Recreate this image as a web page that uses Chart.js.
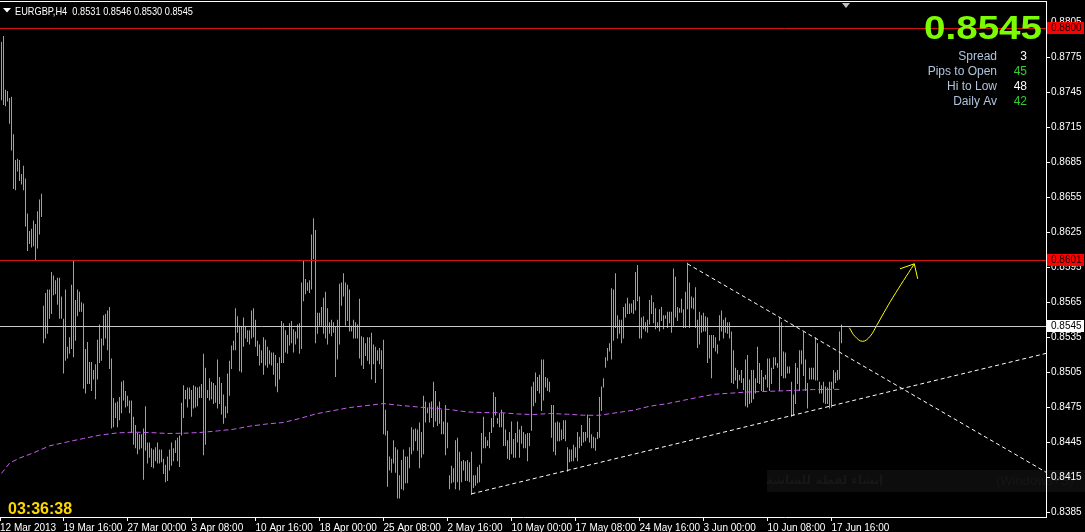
<!DOCTYPE html>
<html>
<head>
<meta charset="utf-8">
<script src="https://cdn.jsdelivr.net/npm/chart.js@4.4.1/dist/chart.umd.min.js"></script>
<style>
html, body { margin: 0; padding: 0; background: #000; }
#wrap { width: 1085px; height: 532px; }
</style>
</head>
<body>
<div id="wrap"><canvas id="chart" width="1085" height="532"></canvas></div>
<script>
// EURGBP H4 bars, high / low per bar (bar 0 = 12 Mar 2013)
const symbol = "EURGBP,H4";
const lastOHLC = [0.8531, 0.8546, 0.8530, 0.8545];

const barHigh = [
0.8788,0.8793,0.8747,0.8746,0.8740,0.8741,0.8709,0.8687,0.8688,0.8687,
0.8675,0.8682,0.8671,0.8641,0.8626,0.8628,0.8635,0.8632,0.8643,0.8653,
0.8658,0.8562,0.8573,0.8576,0.8576,0.8591,0.8588,0.8584,0.8586,0.8586,
0.8570,0.8551,0.8576,0.8527,0.8535,0.8580,0.8601,0.8567,0.8576,0.8574,
0.8565,0.8564,0.8525,0.8531,0.8514,0.8514,0.8507,0.8512,0.8533,0.8546,
0.8534,0.8554,0.8555,0.8558,0.8561,0.8517,0.8483,0.8479,0.8480,0.8484,
0.8497,0.8498,0.8489,0.8485,0.8481,0.8481,0.8467,0.8460,0.8453,0.8452,
0.8452,0.8457,0.8476,0.8445,0.8445,0.8440,0.8439,0.8441,0.8445,0.8439,
0.8439,0.8431,0.8426,0.8433,0.8439,0.8445,0.8440,0.8447,0.8449,0.8451,
0.8479,0.8494,0.8490,0.8492,0.8492,0.8490,0.8494,0.8493,0.8492,0.8493,
0.8495,0.8521,0.8509,0.8490,0.8500,0.8497,0.8496,0.8494,0.8516,0.8501,
0.8496,0.8486,0.8476,0.8504,0.8515,0.8528,0.8532,0.8560,0.8553,0.8545,
0.8544,0.8552,0.8544,0.8541,0.8541,0.8558,0.8560,0.8550,0.8532,0.8529,
0.8524,0.8535,0.8533,0.8527,0.8524,0.8522,0.8522,0.8520,0.8513,0.8518,
0.8549,0.8547,0.8541,0.8537,0.8547,0.8549,0.8542,0.8540,0.8546,0.8547,
0.8582,0.8601,0.8585,0.8582,0.8584,0.8623,0.8637,0.8627,0.8556,0.8556,
0.8561,0.8569,0.8574,0.8560,0.8548,0.8550,0.8548,0.8544,0.8550,0.8581,
0.8582,0.8590,0.8582,0.8580,0.8576,0.8545,0.8550,0.8548,0.8546,0.8568,
0.8536,0.8535,0.8530,0.8535,0.8535,0.8539,0.8529,0.8527,0.8524,0.8526,
0.8524,0.8533,0.8473,0.8455,0.8433,0.8431,0.8447,0.8441,0.8439,0.8417,
0.8430,0.8439,0.8433,0.8433,0.8441,0.8458,0.8456,0.8457,0.8456,0.8462,
0.8454,0.8485,0.8480,0.8475,0.8479,0.8480,0.8497,0.8489,0.8476,0.8480,
0.8473,0.8463,0.8477,0.8462,0.8417,0.8425,0.8423,0.8447,0.8449,0.8437,
0.8429,0.8430,0.8429,0.8430,0.8428,0.8437,0.8417,0.8417,0.8424,0.8426,
0.8453,0.8467,0.8450,0.8447,0.8454,0.8466,0.8488,0.8484,0.8466,0.8470,
0.8473,0.8470,0.8456,0.8447,0.8454,0.8463,0.8448,0.8453,0.8463,0.8456,
0.8459,0.8454,0.8452,0.8453,0.8453,0.8493,0.8497,0.8505,0.8501,0.8503,
0.8516,0.8516,0.8501,0.8500,0.8497,0.8477,0.8477,0.8462,0.8463,0.8462,
0.8456,0.8464,0.8464,0.8441,0.8439,0.8439,0.8443,0.8441,0.8454,0.8450,
0.8460,0.8454,0.8454,0.8469,0.8466,0.8452,0.8450,0.8449,0.8454,0.8484,
0.8493,0.8500,0.8518,0.8526,0.8530,0.8577,0.8576,0.8590,0.8554,0.8550,
0.8550,0.8561,0.8564,0.8569,0.8564,0.8564,0.8567,0.8591,0.8597,0.8570,
0.8552,0.8553,0.8548,0.8550,0.8567,0.8571,0.8565,0.8560,0.8548,0.8559,
0.8561,0.8554,0.8554,0.8557,0.8557,0.8557,0.8594,0.8587,0.8561,0.8560,
0.8568,0.8559,0.8574,0.8599,0.8582,0.8570,0.8569,0.8578,0.8550,0.8557,
0.8554,0.8556,0.8553,0.8552,0.8537,0.8537,0.8537,0.8535,0.8529,0.8554,
0.8558,0.8550,0.8552,0.8548,0.8548,0.8540,0.8524,0.8509,0.8507,0.8503,
0.8507,0.8500,0.8516,0.8520,0.8499,0.8507,0.8507,0.8500,0.8527,0.8513,
0.8507,0.8501,0.8503,0.8517,0.8517,0.8509,0.8518,0.8518,0.8513,0.8552,
0.8548,0.8523,0.8522,0.8510,0.8510,0.8497,0.8486,0.8513,0.8509,0.8524,
0.8524,0.8540,0.8516,0.8496,0.8509,0.8509,0.8509,0.8535,0.8530,0.8497,
0.8494,0.8497,0.8493,0.8492,0.8497,0.8497,0.8507,0.8505,0.8507,0.8540,
0.8546];

const barLow = [
0.8738,0.8734,0.8733,0.8737,0.8718,0.8695,0.8662,0.8661,0.8677,0.8669,
0.8666,0.8661,0.8630,0.8609,0.8615,0.8612,0.8613,0.8601,0.8611,0.8623,
0.8638,0.8530,0.8534,0.8538,0.8551,0.8555,0.8571,0.8572,0.8563,0.8551,
0.8551,0.8504,0.8515,0.8517,0.8521,0.8525,0.8518,0.8532,0.8553,0.8557,
0.8557,0.8491,0.8487,0.8495,0.8495,0.8489,0.8499,0.8482,0.8499,0.8513,
0.8515,0.8528,0.8534,0.8524,0.8508,0.8457,0.8458,0.8466,0.8458,0.8464,
0.8470,0.8481,0.8475,0.8476,0.8470,0.8453,0.8443,0.8440,0.8435,0.8439,
0.8440,0.8413,0.8438,0.8427,0.8432,0.8424,0.8423,0.8429,0.8427,0.8427,
0.8428,0.8418,0.8411,0.8412,0.8421,0.8425,0.8429,0.8436,0.8429,0.8424,
0.8451,0.8466,0.8482,0.8475,0.8482,0.8467,0.8474,0.8475,0.8476,0.8483,
0.8483,0.8434,0.8443,0.8483,0.8481,0.8482,0.8478,0.8479,0.8474,0.8478,
0.8469,0.8461,0.8466,0.8470,0.8485,0.8508,0.8524,0.8524,0.8539,0.8506,
0.8505,0.8527,0.8534,0.8531,0.8529,0.8534,0.8535,0.8527,0.8519,0.8511,
0.8513,0.8503,0.8511,0.8509,0.8512,0.8511,0.8503,0.8493,0.8488,0.8499,
0.8513,0.8513,0.8522,0.8521,0.8528,0.8530,0.8522,0.8529,0.8534,0.8521,
0.8525,0.8566,0.8572,0.8575,0.8573,0.8576,0.8602,0.8530,0.8538,0.8545,
0.8545,0.8538,0.8534,0.8529,0.8538,0.8536,0.8539,0.8501,0.8516,0.8529,
0.8562,0.8570,0.8545,0.8549,0.8540,0.8540,0.8534,0.8534,0.8534,0.8517,
0.8511,0.8508,0.8519,0.8515,0.8512,0.8499,0.8512,0.8496,0.8515,0.8512,
0.8508,0.8452,0.8451,0.8407,0.8421,0.8419,0.8427,0.8419,0.8397,0.8397,
0.8405,0.8404,0.8410,0.8410,0.8423,0.8435,0.8438,0.8446,0.8438,0.8423,
0.8432,0.8435,0.8462,0.8470,0.8462,0.8466,0.8458,0.8463,0.8459,0.8461,
0.8452,0.8452,0.8434,0.8440,0.8405,0.8410,0.8411,0.8405,0.8411,0.8404,
0.8411,0.8421,0.8412,0.8412,0.8411,0.8400,0.8406,0.8408,0.8410,0.8411,
0.8427,0.8440,0.8440,0.8442,0.8440,0.8453,0.8458,0.8468,0.8461,0.8458,
0.8458,0.8442,0.8442,0.8431,0.8430,0.8435,0.8432,0.8432,0.8445,0.8432,
0.8444,0.8440,0.8440,0.8429,0.8442,0.8455,0.8476,0.8479,0.8489,0.8487,
0.8472,0.8481,0.8492,0.8489,0.8488,0.8449,0.8437,0.8434,0.8446,0.8446,
0.8447,0.8448,0.8446,0.8420,0.8428,0.8429,0.8429,0.8432,0.8429,0.8440,
0.8442,0.8445,0.8446,0.8449,0.8445,0.8440,0.8440,0.8438,0.8448,0.8449,
0.8472,0.8492,0.8509,0.8515,0.8523,0.8516,0.8532,0.8543,0.8534,0.8538,
0.8530,0.8534,0.8552,0.8555,0.8555,0.8556,0.8555,0.8558,0.8566,0.8534,
0.8534,0.8542,0.8540,0.8539,0.8546,0.8555,0.8547,0.8542,0.8543,0.8540,
0.8549,0.8542,0.8551,0.8543,0.8547,0.8539,0.8545,0.8552,0.8549,0.8556,
0.8556,0.8543,0.8543,0.8559,0.8543,0.8560,0.8559,0.8543,0.8526,0.8529,
0.8539,0.8540,0.8540,0.8513,0.8517,0.8500,0.8526,0.8523,0.8521,0.8532,
0.8540,0.8534,0.8539,0.8538,0.8534,0.8496,0.8495,0.8498,0.8491,0.8498,
0.8496,0.8490,0.8476,0.8475,0.8478,0.8479,0.8482,0.8487,0.8496,0.8495,
0.8489,0.8489,0.8499,0.8492,0.8489,0.8495,0.8508,0.8511,0.8509,0.8489,
0.8502,0.8500,0.8500,0.8504,0.8504,0.8467,0.8468,0.8478,0.8495,0.8489,
0.8512,0.8502,0.8489,0.8474,0.8499,0.8499,0.8499,0.8498,0.8498,0.8487,
0.8487,0.8479,0.8478,0.8478,0.8474,0.8475,0.8491,0.8496,0.8498,0.8499,
0.8530];

// moving average, sampled at bar indexes
const maIndex = [0,4,9,16,24,33,41,49,58,66,74,83,91,99,108,116,124,133,141,149,
  158,166,174,191,199,208,224,233,241,249,258,266,274,283,291,299,308,316,324,333,
  341,349,356,373,389,406,420];
const maValue = [0.84185,0.84273,0.84316,0.84361,0.84421,0.84455,0.84484,0.84512,0.84532,0.84538,
  0.84535,0.84527,0.84529,0.84535,0.84549,0.84563,0.84589,0.84609,0.84621,0.84655,
  0.84698,0.84723,0.84749,0.84783,0.84768,0.84754,0.84732,0.84711,0.84706,0.84706,
  0.84694,0.84689,0.84698,0.84692,0.84683,0.84683,0.84706,0.84726,0.84760,0.84783,
  0.84811,0.84839,0.84862,0.84882,0.84891,0.84903,0.84905];

// time axis: first bar date, then every 32 bars
const xTickIndex = [-0.75,31,63,95,127,159,191,223,255,287,319,351,383,415];
const xTickLabels = ["12 Mar 2013","19 Mar 16:00","27 Mar 00:00","3 Apr 08:00","10 Apr 16:00",
  "18 Apr 00:00","25 Apr 08:00","2 May 16:00","10 May 00:00","17 May 08:00","24 May 16:00",
  "3 Jun 00:00","10 Jun 08:00","17 Jun 16:00"];
const xMin = -0.75, xMax = 522.25;

const yTicks = [0.8385,0.8415,0.8445,0.8475,0.8505,0.8535,0.8565,0.8595,0.8625,0.8655,
  0.8685,0.8715,0.8745,0.8775,0.8805];
const yMin = 0.838117, yMax = 0.88222;

// drawn objects (bar index, price)
const redLevels = [0.8800, 0.8601];
const bidPrice = 0.8545;
const supportLine = [[235, 0.8401], [395, 0.8468]];
const resistLine = [[343, 0.8598], [389, 0.85522]];
const arrowCurve = [[423.9,0.85433],[426.75,0.85358],[430.6,0.85316],[434.25,0.85358],
  [437.6,0.85452],[441.25,0.85563],[445.75,0.85694],[456.4,0.85980]];
const arrowHead = [[449.25,0.85937],[456.4,0.85980],[458.1,0.85851]];
const shiftMarkIndex = 422;

const infoLabels = ["Spread", "Pips to Open", "Hi to Low", "Daily Av"];
const infoValues = ["3", "45", "48", "42"];
const infoColors = ["#ffffff", "#32cd32", "#ffffff", "#32cd32"];
const clockText = "03:36:38";

const axisFont = "'Liberation Sans', Arial, sans-serif";

const bars = barHigh.map((h, i) => ({ x: i, y: [barLow[i], h] }));
const maPoints = maIndex.map((x, k) => ({ x: x, y: maValue[k] }));
const curvePoints = arrowCurve.map(p => ({ x: p[0], y: p[1] }));
const headPoints = arrowHead.map(p => ({ x: p[0], y: p[1] }));

function ray(ctx, chart, p1, p2) {
  const xs = chart.scales.x, ys = chart.scales.y;
  const x1 = xs.getPixelForValue(p1[0]), y1 = ys.getPixelForValue(p1[1]);
  const x2 = xs.getPixelForValue(p2[0]), y2 = ys.getPixelForValue(p2[1]);
  const xe = chart.chartArea.right;
  const ye = y1 + (y2 - y1) * (xe - x1) / (x2 - x1);
  ctx.beginPath();
  ctx.moveTo(x1, y1);
  ctx.lineTo(xe, ye);
  ctx.stroke();
}

function priceBox(ctx, chart, value, bg, fg) {
  const y = Math.round(chart.scales.y.getPixelForValue(value));
  ctx.fillStyle = bg;
  ctx.fillRect(chart.chartArea.right + 1, y - 6, 37, 12);
  ctx.fillStyle = fg;
  ctx.font = "10px " + axisFont;
  ctx.textAlign = "left";
  ctx.textBaseline = "middle";
  ctx.fillText(value.toFixed(4), chart.chartArea.right + 5, y + 0.5);
}

// text squeezed to a given width, like the narrow terminal font
function fitText(ctx, text, x, y, width) {
  const w = ctx.measureText(text).width;
  ctx.save();
  ctx.translate(x, y);
  ctx.scale(width / w, 1);
  ctx.fillText(text, 0, 0);
  ctx.restore();
}

const drawings = {
  id: "drawings",
  beforeDraw(chart) {
    const ctx = chart.ctx;
    ctx.save();
    ctx.fillStyle = "#000";
    ctx.fillRect(0, 0, chart.width, chart.height);
    // faint screenshot hint left on the chart
    ctx.fillStyle = "#0d0d0d";
    ctx.fillRect(767, 470, 318, 22);
    ctx.fillStyle = "#171717";
    ctx.font = "bold 12px 'DejaVu Sans', sans-serif";
    ctx.textAlign = "right";
    ctx.textBaseline = "middle";
    ctx.fillText("إنشاء لقطة للشاشة", 883, 481);
    ctx.font = "13px 'Liberation Sans', sans-serif";
    ctx.textAlign = "left";
    ctx.fillText("(Windows+S)", 996, 481);
    ctx.restore();
  },
  afterDatasetsDraw(chart) {
    const ctx = chart.ctx, a = chart.chartArea, ys = chart.scales.y;
    ctx.save();
    ctx.beginPath();
    ctx.rect(a.left, a.top, a.right - a.left, a.bottom - a.top);
    ctx.clip();
    ctx.lineWidth = 1;
    redLevels.forEach(v => {
      const y = Math.round(ys.getPixelForValue(v)) + 0.5;
      ctx.strokeStyle = "#d41414";
      ctx.beginPath(); ctx.moveTo(a.left, y); ctx.lineTo(a.right, y); ctx.stroke();
    });
    const yb = Math.round(ys.getPixelForValue(bidPrice)) + 0.5;
    ctx.strokeStyle = "#c8c8c8";
    ctx.beginPath(); ctx.moveTo(a.left, yb); ctx.lineTo(a.right, yb); ctx.stroke();
    ctx.strokeStyle = "#ffffff";
    ctx.setLineDash([4, 3]);
    ray(ctx, chart, supportLine[0], supportLine[1]);
    ray(ctx, chart, resistLine[0], resistLine[1]);
    ctx.restore();
  },
  afterDraw(chart) {
    const ctx = chart.ctx, a = chart.chartArea;
    ctx.save();
    // top frame
    ctx.fillStyle = "#ffffff";
    ctx.fillRect(a.left, a.top - 1, a.right - a.left + 1, 1);
    // level labels on the price axis
    priceBox(ctx, chart, redLevels[0], "#ff0000", "#000000");
    priceBox(ctx, chart, redLevels[1], "#ff0000", "#000000");
    priceBox(ctx, chart, bidPrice, "#ffffff", "#000000");
    // chart shift marker
    const mx = Math.round(chart.scales.x.getPixelForValue(shiftMarkIndex));
    ctx.fillStyle = "#c0c0c0";
    ctx.beginPath();
    ctx.moveTo(mx - 4, a.top + 1); ctx.lineTo(mx + 4, a.top + 1); ctx.lineTo(mx, a.top + 6);
    ctx.closePath(); ctx.fill();
    // title
    ctx.fillStyle = "#ffffff";
    ctx.beginPath();
    ctx.moveTo(3, 8); ctx.lineTo(11, 8); ctx.lineTo(7, 12.5);
    ctx.closePath(); ctx.fill();
    ctx.font = "11.5px " + axisFont;
    ctx.textAlign = "left";
    ctx.textBaseline = "alphabetic";
    fitText(ctx, symbol + "  " + lastOHLC.map(v => v.toFixed(4)).join(" "), 15, 15, 178);
    // big price
    ctx.font = "bold 34px 'Liberation Sans', Arial, sans-serif";
    ctx.fillStyle = "#7cfc00";
    fitText(ctx, bidPrice.toFixed(4), 924, 39, 118);
    // info rows
    const rowBase = [59.5, 74.5, 89.5, 104.5];
    ctx.font = "12px 'Liberation Sans', Arial, sans-serif";
    ctx.textAlign = "right";
    infoLabels.forEach((t, i) => {
      ctx.fillStyle = "#b0c4de";
      ctx.fillText(t, 997, rowBase[i]);
      ctx.fillStyle = infoColors[i];
      ctx.fillText(infoValues[i], 1027, rowBase[i]);
    });
    // clock
    ctx.textAlign = "left";
    ctx.font = "bold 16px 'Liberation Sans', Arial, sans-serif";
    ctx.fillStyle = "#ffd700";
    ctx.fillText(clockText, 8, 513.5);
    ctx.restore();
  }
};

new Chart(document.getElementById("chart"), {
  type: "bar",
  data: {
    datasets: [
      { type: "line", data: curvePoints, borderColor: "#ffff00", borderWidth: 1, pointRadius: 0, tension: 0.4, order: 1 },
      { type: "line", data: headPoints, borderColor: "#ffff00", borderWidth: 1, pointRadius: 0, tension: 0, order: 1 },
      { type: "line", data: maPoints, borderColor: "#c45ef0", borderWidth: 1, borderDash: [5, 3], pointRadius: 0, tension: 0, order: 2 },
      { type: "bar", data: bars, backgroundColor: "#a0a0a0", barThickness: 1, borderWidth: 0, inflateAmount: 0, grouped: false, order: 3 }
    ]
  },
  options: {
    responsive: false,
    animation: false,
    devicePixelRatio: 1,
    layout: { padding: { top: 2, left: 0, right: 0, bottom: 0 } },
    plugins: { legend: { display: false }, tooltip: { enabled: false } },
    scales: {
      x: {
        type: "linear", min: xMin, max: xMax, offset: false,
        afterBuildTicks: s => { s.ticks = xTickIndex.map(v => ({ value: v })); },
        afterFit: s => { s.height = 15; s.paddingLeft = 0; s.paddingRight = 0; },
        grid: { display: true, drawOnChartArea: false, drawTicks: true, tickLength: 4, color: "#ffffff", offset: false },
        border: { display: true, color: "#ffffff" },
        ticks: {
          autoSkip: false, maxRotation: 0, minRotation: 0, align: "start", padding: 1,
          color: "#ffffff", font: { family: axisFont, size: 10 },
          callback: (v, i) => xTickLabels[i]
        }
      },
      y: {
        type: "linear", position: "right", min: yMin, max: yMax,
        afterBuildTicks: s => { s.ticks = yTicks.map(v => ({ value: v })); },
        afterFit: s => { s.width = 39; s.paddingTop = 0; s.paddingBottom = 0; },
        grid: { display: true, drawOnChartArea: false, drawTicks: true, tickLength: 4, color: "#ffffff" },
        border: { display: true, color: "#ffffff" },
        ticks: {
          autoSkip: false, padding: 1, color: "#ffffff", font: { family: axisFont, size: 10 },
          callback: v => Number(v).toFixed(4)
        }
      }
    }
  },
  plugins: [drawings]
});
</script>
</body>
</html>
